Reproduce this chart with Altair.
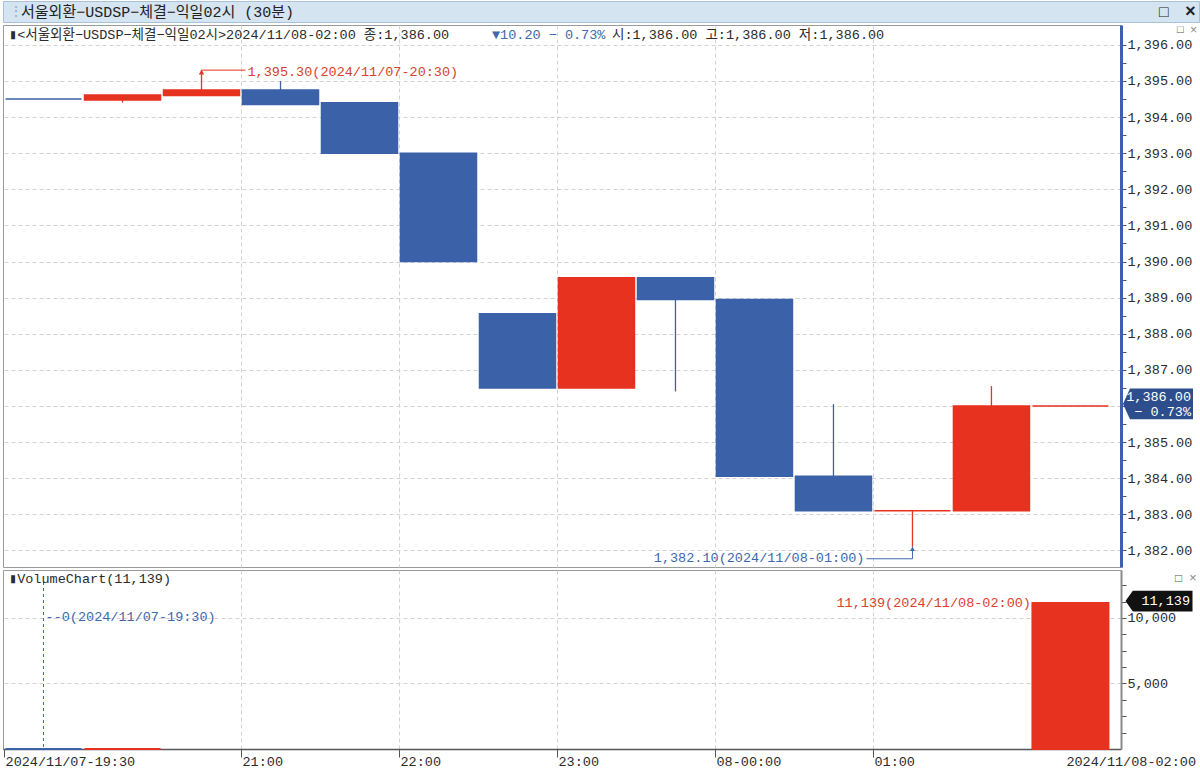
import altair as alt
import pandas as pd

# ---------------- data ----------------
slot_times = ["2024/11/07-19:30", "2024/11/07-20:00", "2024/11/07-20:30", "2024/11/07-21:00",
              "2024/11/07-21:30", "2024/11/07-22:00", "2024/11/07-22:30", "2024/11/07-23:00",
              "2024/11/07-23:30", "2024/11/08-00:00", "2024/11/08-00:30", "2024/11/08-01:00",
              "2024/11/08-01:30", "2024/11/08-02:00"]
opens = [1394.50, 1394.47, 1394.60, 1394.75, 1394.40, 1393.00, 1388.55, 1386.50, 1389.55, 1388.95, 1384.05, 1383.10, 1383.10, 1386.00]
highs = [1394.50, 1394.61, 1395.30, 1395.00, 1394.40, 1393.00, 1388.55, 1389.55, 1389.55, 1388.95, 1386.05, 1383.10, 1386.55, 1386.00]
lows = [1394.50, 1394.40, 1394.60, 1394.35, 1393.00, 1390.00, 1386.50, 1386.50, 1386.40, 1384.05, 1383.10, 1382.10, 1383.10, 1386.00]
closes = [1394.50, 1394.61, 1394.75, 1394.35, 1393.00, 1390.00, 1386.50, 1389.55, 1388.95, 1384.05, 1383.10, 1383.10, 1386.00, 1386.00]
direction = ["down", "up", "up", "down", "down", "down", "down", "up", "down", "down", "down", "up", "up", "up"]
volumes = [0, 0, None, None, None, None, None, None, None, None, None, None, None, 11139]
prev_close = 1396.20

price_ticks = [1382 + 0.5 * i for i in range(29)]
vol_ticks = [1250 * i for i in range(1, 11)]
x_tick_slots = [0, 3, 5, 7, 9, 11]
x_tick_labels = ["2024/11/07-19:30", "21:00", "22:00", "23:00", "08-00:00", "01:00"]
x_end_label = "2024/11/08-02:00"

title_text = "서울외환−USDSP−체결−익일02시  (30분)"
legend_main = "▮<서울외환−USDSP−체결−익일02시>2024/11/08-02:00 종:1,386.00"
legend_change = "▼10.20  − 0.73%"
legend_ohl = "시:1,386.00 고:1,386.00 저:1,386.00"
vol_title = "▮VolumeChart(11,139)"

# ---------------- styles ----------------
RED = "#E6321F"
BLUE = "#3B62A8"
RED_T = "#D8412C"
BLUE_T = "#4068AC"
TXT = "#2b2b2b"
GRID = "#d2d2d2"
FONT = "Liberation Mono, Noto Sans CJK KR, monospace"
FS = 13.5

W, PH, VH = 1118, 542, 179

df = pd.DataFrame({"slot": list(range(len(slot_times))), "time": slot_times,
                   "open": opens, "high": highs, "low": lows, "close": closes,
                   "dir": direction, "volume": volumes})

xscale = alt.Scale(domain=[-0.013, 14.14], nice=False, zero=False)
pscale = alt.Scale(domain=[1381.54, 1396.55], nice=False, zero=False)
vscale = alt.Scale(domain=[0, 13660], nice=False, zero=False)
cscale = alt.Scale(domain=["up", "down"], range=[RED, BLUE])

base = alt.Chart(df).transform_calculate(slot_end="datum.slot + 1", mid="datum.slot + 0.5")

label_arr = ["" for _ in range(15)]
for s, l in zip(x_tick_slots, x_tick_labels):
    label_arr[s] = l
label_expr = "[" + ",".join("'" + l + "'" for l in label_arr) + "][datum.value]"

last = closes[-1]
# the axis label at the last price is covered by the current-price box
price_axis = alt.Axis(orient="right", values=price_ticks, title=None,
                      labelExpr=f"datum.value % 1 == 0 && datum.value != {last} ? format(datum.value, ',.2f') : ''",
                      grid=True, gridDash=[4, 3], gridColor=GRID,
                      gridOpacity={"condition": {"test": "datum.value % 1 == 0", "value": 1}, "value": 0},
                      domainColor=BLUE, domainWidth=3, tickColor="#555", tickSize=5,
                      labelFont=FONT, labelFontSize=FS, labelColor=TXT, labelPadding=1,
                      labelOverlap=False, labelFlush=False)
xgrid_axis = alt.Axis(values=[3, 5, 7, 9, 11], grid=True, gridDash=[4, 3], gridColor=GRID,
                      labels=False, ticks=False, domain=False, title=None)

def PX(f):
    return alt.X(f, type="quantitative", scale=xscale, axis=xgrid_axis)

def PY(f):
    return alt.Y(f, type="quantitative", scale=pscale, axis=price_axis)

# ---------------- price panel ----------------
wick = base.mark_rule(strokeWidth=1.3).encode(
    x=PX("mid"), y=PY("low"), y2="high:Q",
    color=alt.Color("dir:N", scale=cscale, legend=None))
body = base.mark_rect(xOffset=1.5, x2Offset=-1.5, strokeWidth=1.5).encode(
    x=PX("slot"), x2="slot_end:Q",
    y=PY("open"), y2="close:Q",
    color=alt.Color("dir:N", scale=cscale, legend=None),
    stroke=alt.Stroke("dir:N", scale=cscale, legend=None))

hi_i = highs.index(max(highs))
lo_i = lows.index(min(lows))
hi_df = pd.DataFrame({"mid": [hi_i + 0.5], "p": [highs[hi_i]],
                      "label": [f"{highs[hi_i]:,.2f}({slot_times[hi_i]})"]})
lo_df = pd.DataFrame({"mid": [lo_i + 0.5], "p": [lows[lo_i]],
                      "label": [f"{lows[lo_i]:,.2f}({slot_times[lo_i]})"]})

hi_base = alt.Chart(hi_df)
hi_layers = [
    hi_base.mark_rule(color=RED, strokeWidth=1, x2Offset=44).encode(
        x=PX("mid"), x2="mid:Q", y=PY("p")),
    hi_base.mark_point(shape="triangle-up", filled=True, size=28, color=RED, opacity=1, yOffset=2).encode(
        x=PX("mid"), y=PY("p")),
    hi_base.mark_text(align="left", baseline="middle", dx=46, dy=2, color=RED_T, font=FONT, fontSize=FS).encode(
        x=PX("mid"), y=PY("p"), text="label:N"),
]
lo_base = alt.Chart(lo_df)
lo_layers = [
    lo_base.mark_rule(color=BLUE_T, strokeWidth=1, y2Offset=12).encode(
        x=PX("mid"), y=PY("p"), y2="p:Q"),
    lo_base.mark_rule(color=BLUE_T, strokeWidth=1, xOffset=-46, yOffset=12).encode(
        x=PX("mid"), x2="mid:Q", y=PY("p")),
    lo_base.mark_point(shape="triangle-up", filled=True, size=24, color=BLUE_T, opacity=1, yOffset=2).encode(
        x=PX("mid"), y=PY("p")),
    lo_base.mark_text(align="right", baseline="middle", dx=-48, dy=11, color=BLUE_T, font=FONT, fontSize=FS).encode(
        x=PX("mid"), y=PY("p"), text="label:N"),
]

def label_text(txt, x, y, color=TXT, size=FS, align="left", weight="normal"):
    return alt.Chart(pd.DataFrame({"t": [txt]})).mark_text(
        align=align, baseline="middle", color=color, font=FONT, fontSize=size, fontWeight=weight
    ).encode(text="t:N", x=alt.value(x), y=alt.value(y))

pct = (last - prev_close) / prev_close * 100
box_df = pd.DataFrame({"p": [last], "a": [f"{last:,.2f}"], "b": [f"− {abs(pct):.2f}%"]})
PENT = "M-1,0 L-0.8,-0.44 L1,-0.44 L1,0.44 L-0.8,0.44 Z"
box_base = alt.Chart(box_df)
box_layers = [
    box_base.mark_point(shape=PENT, size=4900, filled=True, color="#2D4D8C", opacity=1, yOffset=-2).encode(
        x=alt.value(1155), y=PY("p")),
    box_base.mark_text(align="right", baseline="middle", dy=-9, color="white", font=FONT, fontSize=FS).encode(
        x=alt.value(1188), y=PY("p"), text="a:N"),
    box_base.mark_text(align="right", baseline="middle", dy=6, color="white", font=FONT, fontSize=FS).encode(
        x=alt.value(1188), y=PY("p"), text="b:N"),
]

price_chart = alt.layer(
    wick, body, *hi_layers, *lo_layers,
    label_text(legend_main, 6, 10),
    label_text(legend_change, 489, 10, color=BLUE_T),
    label_text(legend_ohl, 609, 10),
    *box_layers,
    label_text("□", 1174, 5, color="#555", size=11),
    label_text("×", 1187, 5, color="#888", size=12),
).properties(width=W, height=PH, view=alt.ViewBackground(stroke="#9a9a9a", fill="white"))

# ---------------- volume panel ----------------
vol_x_axis = alt.Axis(values=x_tick_slots, labelExpr=label_expr, title=None,
                      grid=True, gridDash=[4, 3], gridColor=GRID,
                      gridOpacity={"condition": {"test": "datum.value > 0", "value": 1}, "value": 0},
                      domainColor="#555", domainWidth=1.5, tickColor="#555", tickSize=8,
                      labelAlign="left", labelBaseline="top", labelPadding=-3, labelOffset=1,
                      labelFont=FONT, labelFontSize=FS, labelColor=TXT,
                      labelFlush=False, labelOverlap=False, labelBound=False)
vol_y_axis = alt.Axis(orient="right", values=vol_ticks, title=None,
                      labelExpr="datum.value % 5000 == 0 ? format(datum.value, ',') : ''",
                      grid=True, gridDash=[4, 3], gridColor=GRID,
                      gridOpacity={"condition": {"test": "datum.value % 5000 == 0", "value": 1}, "value": 0},
                      domainColor="#8a8a8a", domainWidth=2, tickColor="#555", tickSize=5,
                      labelFont=FONT, labelFontSize=FS, labelColor=TXT, labelPadding=1,
                      labelOverlap=False, labelFlush=False)

def VX(f):
    return alt.X(f, type="quantitative", scale=xscale, axis=vol_x_axis)

def VY(f):
    return alt.Y(f, type="quantitative", scale=vscale, axis=vol_y_axis)

vol_bars = base.transform_filter("isValid(datum.volume)").mark_rect(
    xOffset=1.5, x2Offset=-1.5, strokeWidth=2).encode(
    x=VX("slot"), x2="slot_end:Q",
    y=VY("volume"), y2=alt.datum(0),
    color=alt.Color("dir:N", scale=cscale, legend=None),
    stroke=alt.Stroke("dir:N", scale=cscale, legend=None))

vol_valid = [(v, i) for i, v in enumerate(volumes) if v is not None]
vmax, vmax_i = max(vol_valid)
vmin, vmin_i = min(vol_valid)
vmax_df = pd.DataFrame({"slot": [vmax_i], "v": [vmax], "label": [f"{vmax:,}({slot_times[vmax_i]})"],
                        "lab2": [f"{vmax:,}"]})
vmin_df = pd.DataFrame({"mid": [vmin_i + 0.5], "label": [f"--{vmin:,}({slot_times[vmin_i]})"]})

PENT2 = "M-1,0 L-0.78,-0.31 L1,-0.31 L1,0.31 L-0.78,0.31 Z"
vol_layers = [
    alt.Chart(vmax_df).mark_text(align="right", baseline="middle", color=RED_T, font=FONT, fontSize=FS).encode(
        x=VX("slot"), y=VY("v"), text="label:N"),
    alt.Chart(vmax_df).mark_point(shape=PENT2, size=4489, filled=True, color="#111", opacity=1, yOffset=-2).encode(
        x=alt.value(1156), y=VY("v")),
    alt.Chart(vmax_df).mark_text(align="right", baseline="middle", dy=-2, color="white", font=FONT, fontSize=FS).encode(
        x=alt.value(1187), y=VY("v"), text="lab2:N"),
    alt.Chart(vmin_df).mark_rule(color=BLUE_T, strokeDash=[3, 3], strokeWidth=1).encode(
        x=VX("mid"), y=alt.value(12), y2=alt.value(VH)),
    alt.Chart(vmin_df).mark_text(align="left", baseline="middle", dx=2, color=BLUE_T, font=FONT, fontSize=FS).encode(
        x=VX("mid"), y=alt.value(47), text="label:N"),
]

vol_chart = alt.layer(
    vol_bars, *vol_layers,
    label_text(vol_title, 6, 9),
    label_text(x_end_label, 1193, VH + 13, align="right"),
    label_text("□", 1172, 8, color="#555", size=12),
    label_text("×", 1186, 8, color="#888", size=13),
).properties(width=W, height=VH, view=alt.ViewBackground(stroke="#9a9a9a", fill="white"))

# ---------------- window title bar ----------------
title_chart = alt.layer(
    label_text("⋮", 6, 11, color="#9aaabb", size=14),
    label_text(title_text, 18, 11, color="#222", size=15),
    label_text("□", 1156, 11, color="#222", size=16, weight="bold"),
    label_text("×", 1182, 11, color="#222", size=18, weight="bold"),
).properties(width=1196, height=21, view=alt.ViewBackground(fill="#D4E4F1", stroke="#A9C2D8"))

chart = alt.vconcat(title_chart, price_chart, vol_chart, spacing=3, bounds="flush").resolve_scale(
    x="independent", y="independent", color="independent", stroke="independent"
).properties(padding={"left": 2, "top": 0, "right": 0, "bottom": 0}, background="white")

chart.save("out.html", embed_options={"renderer": "svg", "actions": False})
